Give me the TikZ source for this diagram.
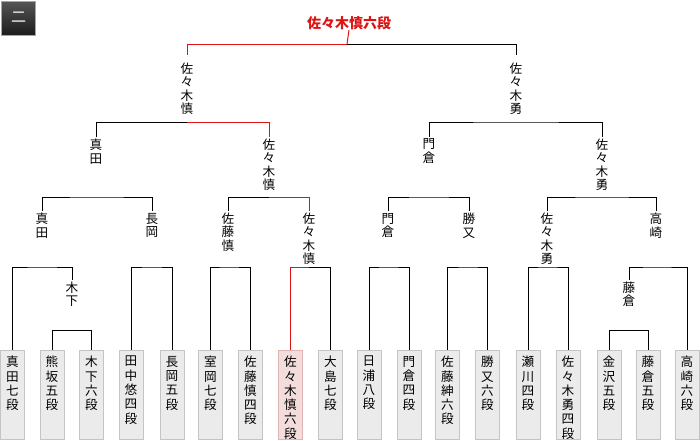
\documentclass[tikz,border=0pt]{standalone}
\usepackage{fontspec}
\setmainfont{Noto Sans CJK JP}
\definecolor{wred}{RGB}{220,20,20}
\definecolor{leaffill}{RGB}{235,235,235}
\definecolor{leafline}{RGB}{196,196,196}
\definecolor{pinkfill}{RGB}{243,220,220}
\definecolor{pinkline}{RGB}{224,180,180}
\definecolor{badgetop}{RGB}{85,85,85}
\definecolor{badgebot}{RGB}{28,28,28}
\tikzset{
  ln/.style={draw=black, line width=1pt},
  rl/.style={draw=wred, line width=1pt},
  lab/.style={font=\fontsize{12.6}{13.4}\selectfont, align=center, inner sep=0pt, outer sep=2pt, anchor=north},
  leafbox/.style={draw=leafline, fill=leaffill, line width=1pt, minimum width=24pt, minimum height=89pt, inner sep=0pt, outer sep=0pt, anchor=north},
  winbox/.style={leafbox, draw=pinkline, fill=pinkfill},
  leaftext/.style={font=\fontsize{12.6}{14.3}\selectfont, align=center, inner sep=0pt, anchor=north},
}
\begin{document}
\begin{tikzpicture}[x=1pt,y=-1pt]
\useasboundingbox (0,0) rectangle (700,440);
% badge
\node[draw=gray!70, line width=1pt, top color=badgetop, bottom color=badgebot, minimum width=34pt, minimum height=34pt, inner sep=0pt, anchor=north west] (badge) at (0.5,0.5) {};
\node[text=white, font=\fontsize{15}{15}\selectfont, inner sep=0pt] (badgetext) at (18.5,17) {二};
% title
\node[text=wred, font=\fontsize{14}{14}\selectfont\bfseries, inner sep=0pt, outer sep=0pt, anchor=south] (T) at (349,30) {佐々木慎六段};
% leaves
\foreach \n/\x/\t in {1/12.5/真\\田\\七\\段, 2/52/熊\\坂\\五\\段, 3/91.3/木\\下\\六\\段, 4/131/田\\中\\悠\\四\\段, 5/172/長\\岡\\五\\段, 6/210.5/室\\岡\\七\\段, 7/250.5/佐\\藤\\慎\\四\\段, 9/330.5/大\\島\\七\\段, 10/369/日\\浦\\八\\段, 11/409/門\\倉\\四\\段, 12/447.5/佐\\藤\\紳\\六\\段, 13/487.5/勝\\又\\六\\段, 14/528/瀬\\川\\四\\段, 15/568/佐\\々\\木\\勇\\四\\段, 16/609/金\\沢\\五\\段, 17/648/藤\\倉\\五\\段, 18/687/高\\崎\\六\\段}{
  \node[leafbox] (L\n) at (\x,350) {};
  \node[leaftext] (L\n t) at (\x,356) {\t};
}
\node[winbox] (L8) at (290.5,350) {};
\node[leaftext] (L8t) at (290.5,356) {佐\\々\\木\\慎\\六\\段};
% level 1 labels
\node[lab] (F1) at (187,61) {佐\\々\\木\\慎};
\node[lab] (F2) at (516,61) {佐\\々\\木\\勇};
% level 2 labels
\node[lab] (S1) at (96,137) {真\\田};
\node[lab] (S2) at (269,137) {佐\\々\\木\\慎};
\node[lab] (S3) at (429,137) {門\\倉};
\node[lab] (S4) at (602,137) {佐\\々\\木\\勇};
% level 3 labels
\node[lab] (Q1) at (42,211) {真\\田};
\node[lab] (Q2) at (152,211) {長\\岡};
\node[lab] (Q3) at (228,211) {佐\\藤\\慎};
\node[lab] (Q4) at (309,211) {佐\\々\\木\\慎};
\node[lab] (Q5) at (388,211) {門\\倉};
\node[lab] (Q6) at (469,211) {勝\\又};
\node[lab] (Q7) at (547,211) {佐\\々\\木\\勇};
\node[lab] (Q8) at (656,211) {高\\崎};
% level 4 labels
\node[lab] (K) at (72,280) {木\\下};
\node[lab] (D) at (629,280) {藤\\倉};
% bracket points
\coordinate (m0) at (347,44);
\coordinate (mS1) at (187,122);
\coordinate (mS2) at (516,122);
\coordinate (mQ1) at (96,197);
\coordinate (mQ2) at (269,197);
\coordinate (mQ3) at (429,197);
\coordinate (mQ4) at (602,197);
\coordinate (mR1) at (42,267);
\coordinate (mR2) at (152,267);
\coordinate (mR3) at (228,267);
\coordinate (mR4) at (309,267);
\coordinate (mR5) at (388,267);
\coordinate (mR6) at (469,267);
\coordinate (mR7) at (547,267);
\coordinate (mR8) at (656,267);
\coordinate (mK) at (72,330);
\coordinate (mD) at (629,330);
% final
\draw[rl] (T.south) -- (m0);
\draw[rl, shorten <=6pt] (F1.north) |- (m0);
\draw[ln, shorten >=6pt] (m0) -| (F2.north);
% level 1 brackets
\draw[ln] (S1.north) |- (mS1);
\draw[rl] (mS1) -| (S2.north);
\draw[ln] (S3.north) |- (mS2) -| (S4.north);
% level 2 brackets
\draw[ln] (Q1.north) |- (mQ1) -| (Q2.north);
\draw[ln] (Q3.north) |- (mQ2);
\draw[rl] (mQ2) -| (Q4.north);
\draw[ln] (Q5.north) |- (mQ3) -| (Q6.north);
\draw[ln] (Q7.north) |- (mQ4) -| (Q8.north);
% level 3 brackets
\draw[ln] (L1.north) |- (mR1) -| (K.north);
\draw[ln] (L4.north) |- (mR2) -| (L5.north);
\draw[ln] (L6.north) |- (mR3) -| (L7.north);
\draw[rl] (L8.north) |- (mR4);
\draw[ln] (mR4) -| (L9.north);
\draw[ln] (L10.north) |- (mR5) -| (L11.north);
\draw[ln] (L12.north) |- (mR6) -| (L13.north);
\draw[ln] (L14.north) |- (mR7) -| (L15.north);
\draw[ln] (D.north) |- (mR8) -| (L18.north);
% level 4 brackets
\draw[ln] (L2.north) |- (mK) -| (L3.north);
\draw[ln] (L16.north) |- (mD) -| (L17.north);
\end{tikzpicture}
\end{document}
